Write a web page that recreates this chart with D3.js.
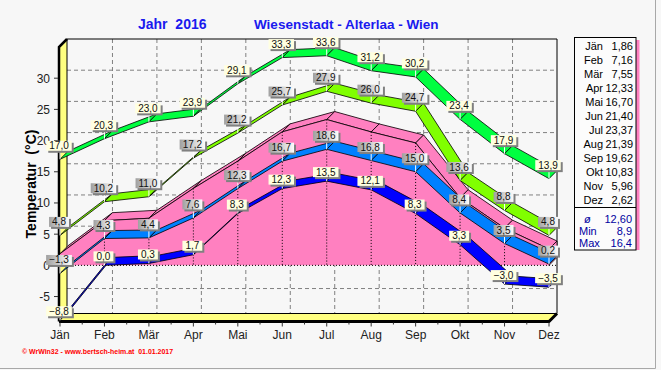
<!DOCTYPE html>
<html>
<head>
<meta charset="utf-8">
<script src="https://cdn.jsdelivr.net/npm/d3@7"></script>
<style>
  body { margin: 0; background: #f7f7f7; }
  svg { display: block; font-family: "Liberation Sans", Arial, sans-serif; }
  text { white-space: pre; }
</style>
</head>
<body>
<div class="chart"></div>
<script>
// monthly values, Wiesenstadt - Alterlaa 2016
const months = ["Jän","Feb","Mär","Apr","Mai","Jun","Jul","Aug","Sep","Okt","Nov","Dez"];
const absMax  = [17.0,20.3,23.0,23.9,29.1,33.3,33.6,31.2,30.2,23.4,17.9,13.9];
const meanMax = [4.8,10.2,11.0,17.2,21.2,25.7,27.9,26.0,24.7,13.6,8.8,4.8];
const meanTemp = [1.86,7.16,7.55,12.33,16.70,21.40,23.37,21.39,19.62,10.83,5.96,2.62];
const meanMin = [-1.3,4.3,4.4,7.6,12.3,16.7,18.6,16.8,15.0,8.4,3.5,0.2];
const absMin  = [-8.8,0.0,0.3,1.7,8.3,12.3,13.5,12.1,8.3,3.3,-3.0,-3.5];
const yTicks = [-5,0,5,10,15,20,25,30];
const summaryLabels = ["ø","Min","Max"];
const summaryValues = ["12,60","8,9","16,4"];

const width = 661, height = 370;
const DX = 8, DY = -8; // depth of the 3d look

const x = d3.scalePoint().domain(months).range([60, 549]);
const y = d3.scaleLinear().domain([-9, 35]).range([321.5, 47]);

const comma = v => d3.format(".1f")(v).replace(".", ",");
const comma2 = v => d3.format(".2f")(v).replace(".", ",");

const svg = d3.select('.chart').append('svg')
    .attr('width', width).attr('height', height);

const defs = svg.append('defs');
const grad = defs.append('linearGradient').attr('id', 'grayLbl');
grad.append('stop').attr('offset', '0%').attr('stop-color', '#a0a0a0');
grad.append('stop').attr('offset', '100%').attr('stop-color', '#fcfcfc');

svg.append('rect').attr('width', width).attr('height', height).attr('fill', '#f7f7f7');
svg.append('path').attr('d', `M655.5,0V368.5H0`).attr('fill', 'none').attr('stroke', '#a8a8a8');

// title
svg.append('text').attr('x', 138).attr('y', 29).text('Jahr  2016')
    .attr('font-size', 14).attr('font-weight', 'bold').attr('fill', '#1a1aee');
svg.append('text').attr('x', 254).attr('y', 29).text('Wiesenstadt - Alterlaa - Wien')
    .attr('font-size', 13.5).attr('font-weight', 'bold').attr('fill', '#1a1aee');

// walls
const x0 = x(months[0]), x1 = x(months[11]);
const yb = y(-9), yt = y(35);
svg.append('polygon')
    .attr('points', [[x0-1, yt], [x0-1+DX, yt+DY], [x0-1+DX, yb+DY], [x0-1, yb]].join(' '))
    .attr('fill', '#ffff80');
svg.append('polygon')
    .attr('points', [[x0-1, yb], [x0-1+DX, yb+DY], [x1+DX, yb+DY], [x1, yb]].join(' '))
    .attr('fill', '#ffff80');

// back wall grid
svg.selectAll('line.hg').data(yTicks).join('line')
    .attr('x1', x0-1+DX).attr('x2', x1+DX)
    .attr('y1', d => y(d)+DY).attr('y2', d => y(d)+DY)
    .attr('stroke', '#808080').attr('stroke-dasharray', '4,3');
svg.selectAll('line.vg').data(months.slice(1, 11)).join('line')
    .attr('x1', d => x(d)+DX).attr('x2', d => x(d)+DX)
    .attr('y1', yt+DY).attr('y2', yb+DY)
    .attr('stroke', '#808080').attr('stroke-dasharray', '4,3');

// frame lines
svg.append('path')
    .attr('d', `M${x0-1+DX},${yb+DY}V${yt+DY}H${x1+DX}V${yb+DY}H${x0-1+DX}`)
    .attr('fill', 'none').attr('stroke', 'black');
svg.append('path')
    .attr('d', `M${x0-1},${yb}V${yt}L${x0-1+DX},${yt+DY}`)
    .attr('fill', 'none').attr('stroke', 'black').attr('stroke-width', 2.5);
svg.append('path')
    .attr('d', `M${x0-1},${yb}H${x1}L${x1+DX},${yb+DY}`)
    .attr('fill', 'none').attr('stroke', 'black').attr('stroke-width', 3);

// y axis ticks and labels
svg.selectAll('line.yt').data(yTicks).join('line')
    .attr('x1', 54).attr('x2', 58).attr('y1', d => y(d)).attr('y2', d => y(d))
    .attr('stroke', '#333');
svg.selectAll('text.yl').data(yTicks).join('text')
    .attr('x', 50).attr('y', d => y(d)+4.5).attr('text-anchor', 'end')
    .attr('font-size', 12).attr('fill', '#222').text(d => d);
svg.append('text').attr('transform', 'translate(36,184) rotate(-90)')
    .attr('text-anchor', 'middle').attr('font-size', 14).attr('font-weight', 'bold')
    .text('Temperatur  (°C)');

// x axis ticks and labels
svg.selectAll('line.xt').data(months).join('line')
    .attr('x1', d => x(d)).attr('x2', d => x(d)).attr('y1', yb+1).attr('y2', yb+5)
    .attr('stroke', '#333');
svg.selectAll('line.xm').data(months.slice(1)).join('line')
    .attr('x1', d => x(d)-x.step()/2).attr('x2', d => x(d)-x.step()/2)
    .attr('y1', yb+1).attr('y2', yb+3).attr('stroke', '#333');
svg.selectAll('text.xl').data(months).join('text')
    .attr('x', d => x(d)).attr('y', 339).attr('text-anchor', 'middle')
    .attr('font-size', 12).attr('fill', '#222').text(d => d);

// pink mean temperature block
const pink = '#ff80c0';
const area = d3.area().x((d, i) => x(months[i])).y0(y(0)).y1(d => y(d));
svg.append('path').attr('d', area(meanTemp))
    .attr('transform', `translate(${DX},${DY})`).attr('fill', pink);
for (let i = 0; i < 11; i++) {
    const a = [x(months[i]), y(meanTemp[i])], b = [x(months[i+1]), y(meanTemp[i+1])];
    svg.append('polygon')
        .attr('points', [a, b, [b[0]+DX, b[1]+DY], [a[0]+DX, a[1]+DY]].join(' '))
        .attr('fill', pink).attr('stroke', 'black').attr('stroke-width', 0.8);
}
svg.append('polygon')
    .attr('points', [[x1, y(meanTemp[11])], [x1+DX, y(meanTemp[11])+DY], [x1+DX, y(0)+DY], [x1, y(0)]].join(' '))
    .attr('fill', pink).attr('stroke', 'black').attr('stroke-width', 0.8);
svg.append('path').attr('d', area(meanTemp)).attr('fill', pink);
svg.append('path').attr('d', d3.line().x((d, i) => x(months[i])).y(d => y(d))(meanTemp))
    .attr('fill', 'none').attr('stroke', 'black').attr('stroke-width', 0.8);
svg.selectAll('line.dv').data(months.slice(1, 11)).join('line')
    .attr('x1', d => x(d)).attr('x2', d => x(d))
    .attr('y1', d => y(meanTemp[months.indexOf(d)])).attr('y2', y(0))
    .attr('stroke', 'black').attr('stroke-dasharray', '1,2');
svg.append('line').attr('x1', x0).attr('x2', x1+DX).attr('y1', y(0)).attr('y2', y(0))
    .attr('stroke', 'black').attr('stroke-dasharray', '1,2');

// ribbons
const series = [
    {values: absMin, color: '#0000ff', label: 'cream', off: 4},
    {values: meanMin, color: '#0080ff', label: 'gray', off: 8.5},
    {values: meanMax, color: '#80ff00', label: 'gray', off: 8.5},
    {values: absMax, color: '#00ff40', label: 'cream', off: 8.5}
];
series.forEach(s => {
    const g = svg.append('g');
    for (let i = 0; i < 11; i++) {
        const a = [x(months[i]), y(s.values[i])], b = [x(months[i+1]), y(s.values[i+1])];
        g.append('polygon')
            .attr('points', [a, b, [b[0]+DX, b[1]+DY], [a[0]+DX, a[1]+DY]].join(' '))
            .attr('fill', s.color).attr('stroke', 'black').attr('stroke-width', 0.8);
    }
});

// value labels
series.forEach(s => {
    s.values.forEach((v, i) => {
        const px = x(months[i]), py = y(v);
        const bottom = py - s.off;
        const g = svg.append('g');
        g.append('line').attr('x1', px).attr('x2', px).attr('y1', bottom).attr('y2', py)
            .attr('stroke', 'white');
        const t = g.append('text').attr('x', px-1).attr('y', bottom-1.5)
            .attr('text-anchor', 'middle').attr('font-size', 10).attr('fill', '#111')
            .text(comma(v));
        const w = t.node().getComputedTextLength() + 6;
        g.insert('rect', 'text').attr('x', px-1-w/2+2).attr('y', bottom-10+2)
            .attr('width', w).attr('height', 10).attr('fill', '#808080');
        g.insert('rect', 'text').attr('x', px-1-w/2).attr('y', bottom-10)
            .attr('width', w).attr('height', 10)
            .attr('fill', s.label === 'gray' ? 'url(#grayLbl)' : '#ffffe0');
    });
});

// legend table
svg.append('rect').attr('x', 636).attr('y', 40).attr('width', 3.5).attr('height', 210).attr('fill', pink);
svg.append('rect').attr('x', 574.5).attr('y', 37.5).attr('width', 61.5).attr('height', 212.5)
    .attr('fill', '#fcfcfc').attr('stroke', 'black');
svg.append('line').attr('x1', 574.5).attr('x2', 636).attr('y1', 207.5).attr('y2', 207.5).attr('stroke', 'black');
svg.selectAll('text.lm').data(months).join('text')
    .attr('x', 603).attr('y', (d, i) => 49.5 + i*14).attr('text-anchor', 'end')
    .attr('font-size', 11).text(d => d);
svg.selectAll('text.lv').data(meanTemp).join('text')
    .attr('x', 633).attr('y', (d, i) => 49.5 + i*14).attr('text-anchor', 'end')
    .attr('font-size', 11).text(d => comma2(d));
svg.selectAll('text.sl').data(summaryLabels).join('text')
    .attr('x', (d, i) => i === 0 ? 584 : 579).attr('y', (d, i) => 223 + i*12)
    .attr('font-size', 11).attr('fill', '#0000a0')
    .attr('font-style', (d, i) => i === 0 ? 'italic' : 'normal').text(d => d);
svg.selectAll('text.sv').data(summaryValues).join('text')
    .attr('x', 632).attr('y', (d, i) => 223 + i*12).attr('text-anchor', 'end')
    .attr('font-size', 11).attr('fill', '#0000a0').text(d => d);

// footer
svg.append('text').attr('x', 22).attr('y', 354)
    .attr('font-size', 7.5).attr('font-weight', 'bold').attr('fill', '#ff0000')
    .attr('textLength', 151).attr('lengthAdjust', 'spacingAndGlyphs')
    .text('© WrWin32 - www.bertsch-heim.at  01.01.2017');
</script>
</body>
</html>
